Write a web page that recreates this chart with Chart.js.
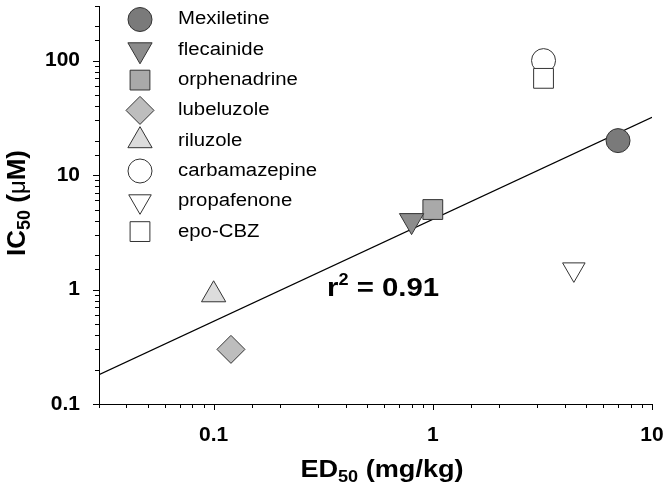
<!DOCTYPE html>
<html>
<head>
<meta charset="utf-8">
<script src="https://cdn.jsdelivr.net/npm/chart.js@4.4.1/dist/chart.umd.min.js"></script>
<style>
  html, body { margin: 0; padding: 0; background: #fff; }
  #wrap { width: 669px; height: 492px; }
</style>
</head>
<body>
<div id="wrap"><canvas id="ic50Chart"></canvas></div>
<script>
const compounds = ['Mexiletine', 'flecainide', 'orphenadrine', 'lubeluzole', 'riluzole', 'carbamazepine', 'propafenone', 'epo-CBZ'];
const ed50 = [7, 0.8, 1, 0.12, 0.1, 3.2, 4.4, 3.2];
const ic50 = [20, 4, 5, 0.3, 0.9, 100, 1.5, 70];

// regression line end points
const fitX = [0.03, 10];
const fitY = [0.18, 32];

const xTicks = [0.1, 1, 10];
const xTickLabels = ['0.1', '1', '10'];
const yTicks = [0.1, 1, 10, 100];
const yTickLabels = ['0.1', '1', '10', '100'];

const pointStyles = ['circle', 'triangle', 'rect', 'rectRot', 'triangle', 'circle', 'triangle', 'rect'];
const rotations = [0, 180, 0, 0, 0, 0, 180, 0];
const radii = [12, 14, 14, 14, 14, 12, 13, 14];
const fills = ['#7a7a7a', '#8c8c8c', '#a9a9a9', '#bdbdbd', '#dcdcdc', '#ffffff', '#ffffff', '#ffffff'];
const edge = '#333';

const FONT = '"Liberation Sans", Arial, sans-serif';
Chart.defaults.font.family = FONT;
Chart.defaults.color = '#000';

function isDecade(v) {
    const l = Math.log10(v);
    return Math.abs(l - Math.round(l)) < 1e-6;
}
function tickLabel(values, labels) {
    return function (v) {
        const i = values.findIndex(t => Math.abs(t - v) / t < 1e-6);
        return i >= 0 ? labels[i] : '';
    };
}
// no extra room for labels hanging over the ends of the axes
function noOverhang(scale) {
    scale.paddingTop = 0;
    scale.paddingBottom = 0;
    scale.paddingLeft = 0;
    scale.paddingRight = 0;
}

// text with sub/superscripts: parts = [text, size, dy, weight]
function drawRich(ctx, parts, x, y, align, stretch) {
    let w = 0;
    parts.forEach(p => {
        ctx.font = (p[3] || 'bold') + ' ' + p[1] + 'px ' + FONT;
        w += ctx.measureText(p[0]).width;
    });
    ctx.save();
    ctx.translate(x, y);
    ctx.scale(stretch, 1);
    let cx = align === 'center' ? -w / 2 : 0;
    parts.forEach(p => {
        ctx.font = (p[3] || 'bold') + ' ' + p[1] + 'px ' + FONT;
        ctx.fillText(p[0], cx, p[2]);
        cx += ctx.measureText(p[0]).width;
    });
    ctx.restore();
}

const decor = {
    id: 'decor',
    afterDraw(chart) {
        const ctx = chart.ctx;
        const xs = chart.scales.x, ys = chart.scales.y;
        ctx.save();
        ctx.strokeStyle = '#000';
        ctx.lineWidth = 1;
        // tick marks, longer at decades
        xs.ticks.forEach(t => {
            const px = Math.round(xs.getPixelForValue(t.value)) + 0.5;
            const len = isDecade(t.value) ? 6 : 4;
            ctx.beginPath();
            ctx.moveTo(px, xs.top);
            ctx.lineTo(px, xs.top + len);
            ctx.stroke();
        });
        ys.ticks.forEach(t => {
            const py = Math.round(ys.getPixelForValue(t.value)) + 0.5;
            const len = isDecade(t.value) ? 6 : 4;
            ctx.beginPath();
            ctx.moveTo(ys.right, py);
            ctx.lineTo(ys.right - len, py);
            ctx.stroke();
        });

        // legend
        ctx.textBaseline = 'middle';
        compounds.forEach((name, i) => {
            const y = 19.5 + i * 30.3;
            ctx.fillStyle = fills[i];
            ctx.strokeStyle = edge;
            ctx.lineWidth = 1;
            Chart.helpers.drawPoint(ctx, {pointStyle: pointStyles[i], radius: radii[i], rotation: rotations[i], borderWidth: 1}, 140, y);
            ctx.fillStyle = '#000';
            drawRich(ctx, [[name, 18, 0, 'normal']], 178, y, 'left', 1.13);
        });

        // axis titles
        ctx.textBaseline = 'alphabetic';
        drawRich(ctx, [['ED', 24, 0], ['50', 16, 5], [' (mg/kg)', 24, 0]], 382, 477, 'center', 1.13);
        ctx.save();
        ctx.translate(25, 203);
        ctx.rotate(-Math.PI / 2);
        drawRich(ctx, [['IC', 26, 0], ['50', 18, 5], [' (', 26, 0], ['\u03bc', 24, 0, 'normal'], ['M)', 26, 0]], 0, 0, 'center', 1);
        ctx.restore();

        // r squared
        drawRich(ctx, [['r', 26, 0], ['2', 16, -11], [' = 0.91', 26, 0]], 327, 296, 'left', 1.13);
        ctx.restore();
    }
};

const datasets = compounds.map((name, i) => ({
    label: name,
    data: [{x: ed50[i], y: ic50[i]}],
    pointStyle: pointStyles[i],
    rotation: rotations[i],
    radius: radii[i],
    backgroundColor: fills[i],
    borderColor: edge,
    borderWidth: 1,
    order: name === 'epo-CBZ' ? 0 : 1
}));
datasets.push({
    label: 'fit',
    data: fitX.map((x, i) => ({x: x, y: fitY[i]})),
    showLine: true,
    pointRadius: 0,
    borderColor: '#000',
    borderWidth: 1.2,
    order: 2
});

const ctx = document.getElementById('ic50Chart').getContext('2d');
new Chart(ctx, {
    type: 'scatter',
    data: { datasets: datasets },
    options: {
        responsive: true,
        maintainAspectRatio: false,
        animation: false,
        devicePixelRatio: 1,
        layout: { autoPadding: false, padding: { top: 6, right: 17, left: 0, bottom: 0 } },
        plugins: { legend: { display: false }, tooltip: { enabled: false } },
        scales: {
            x: {
                type: 'logarithmic',
                position: 'bottom',
                min: 0.03,
                max: 10,
                grid: { display: false, drawTicks: false },
                border: { display: true, color: '#000', width: 1 },
                ticks: {
                    autoSkip: false, maxRotation: 0, minRotation: 0, padding: 19,
                    color: '#000', font: { size: 21, weight: 'bold' },
                    callback: tickLabel(xTicks, xTickLabels)
                },
                afterFit(scale) { scale.height = 88; noOverhang(scale); }
            },
            y: {
                type: 'logarithmic',
                position: 'left',
                min: 0.1,
                max: 300,
                grid: { display: false, drawTicks: false },
                border: { display: true, color: '#000', width: 1 },
                ticks: {
                    autoSkip: false, padding: 19,
                    color: '#000', font: { size: 21, weight: 'bold' },
                    callback: tickLabel(yTicks, yTickLabels)
                },
                afterFit(scale) { scale.width = 99; noOverhang(scale); }
            }
        }
    },
    plugins: [decor]
});
</script>
</body>
</html>
